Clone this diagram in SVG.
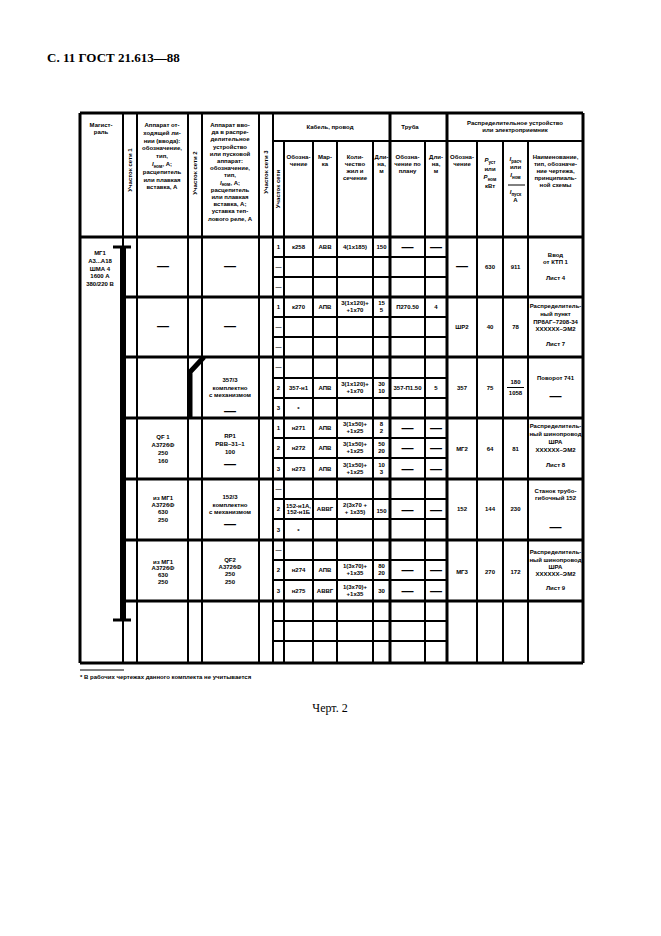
<svg xmlns="http://www.w3.org/2000/svg" width="661" height="936" viewBox="0 0 661 936">
<style>
.t{font-family:"Liberation Sans",Arial,sans-serif;font-size:6px;font-weight:bold;text-anchor:middle;fill:#000}
.l{font-family:"Liberation Sans",Arial,sans-serif;font-size:6px;font-weight:bold;fill:#000}
.d{font-family:"Liberation Sans",Arial,sans-serif;font-size:12px;font-weight:bold;text-anchor:middle;fill:#000}
.ln{stroke:#000;stroke-width:2;fill:none}
.tk{stroke:#000;stroke-width:3;fill:none}
.s{font-size:4.5px}
</style>
<rect width="661" height="936" fill="#fff"/>
<text x="47" y="62" font-family="Liberation Serif,Times New Roman,serif" font-size="13" font-weight="bold">С. 11 ГОСТ 21.613—88</text>

<g id="grid">
<path class="tk" d="M80,113H583M80,237H583M80,663H583M80,113V663M583,113V663M390,113V663M447,113V663"/>
<path class="tk" d="M123,297H583M123,357H583M123,418H583M123,479H583M123,540H583M123,601H583"/>
<path class="ln" d="M273,141H583M123,113V663M137,113V663M188,113V663M202,113V663M259,113V663M273,113V663M284,141V663M313,141V663M337,141V663M373,141V663M425,141V663M477,141V663M503,141V663M528,141V663"/>
<path class="ln" d="M273,257H447M273,277H447M273,317H447M273,337H447M273,378H447M273,398H447M273,438H447M273,458H447M273,499H447M273,519H447M273,560H447M273,580H447M273,621H447M273,641H447"/>
</g>

<g id="bus">
<rect x="120" y="246" width="6" height="375" fill="#000"/>
<path class="tk" d="M113,247H131M113,620H131"/>
<polyline points="204,357 190,372 190,418" stroke="#000" stroke-width="5" fill="none"/>
</g>

<g id="header">
<text class="t" x="101"><tspan x="101" y="127">Магист-</tspan><tspan x="101" y="134">раль</tspan></text>
<text class="t" transform="translate(132,170) rotate(-90)">Участок сети 1</text>
<text class="t" transform="translate(197,173) rotate(-90)">Участок сети 2</text>
<text class="t" transform="translate(268,172) rotate(-90)">Участок сети 3</text>
<text class="t" transform="translate(280,189) rotate(-90)">Участок сети</text>
<text class="t"><tspan x="162" y="127">Аппарат от-</tspan><tspan x="162" y="134.8">ходящей ли-</tspan><tspan x="162" y="142.6">нии (ввода):</tspan><tspan x="162" y="150.4">обозначение,</tspan><tspan x="162" y="158.2">тип,</tspan><tspan x="162" y="166"><tspan font-style="italic">I</tspan><tspan class="s" dy="1.5">ном</tspan><tspan dy="-1.5">, А;</tspan></tspan><tspan x="162" y="173.8">расцепитель</tspan><tspan x="162" y="181.6">или плавкая</tspan><tspan x="162" y="189.4">вставка, А</tspan></text>
<text class="t"><tspan x="230" y="127">Аппарат вво-</tspan><tspan x="230" y="134.2">да в распре-</tspan><tspan x="230" y="141.4">делительное</tspan><tspan x="230" y="148.6">устройство</tspan><tspan x="230" y="155.8">или пусковой</tspan><tspan x="230" y="163">аппарат:</tspan><tspan x="230" y="170.2">обозначение,</tspan><tspan x="230" y="177.4">тип,</tspan><tspan x="230" y="184.6"><tspan font-style="italic">I</tspan><tspan class="s" dy="1.5">ном</tspan><tspan dy="-1.5">, А;</tspan></tspan><tspan x="230" y="191.8">расцепитель</tspan><tspan x="230" y="199">или плавкая</tspan><tspan x="230" y="206.2">вставка, А;</tspan><tspan x="230" y="213.4">уставка теп-</tspan><tspan x="230" y="220.6">лового реле, А</tspan></text>
<text class="t" x="330" y="129">Кабель, провод</text>
<text class="t" x="410" y="129">Труба</text>
<text class="t"><tspan x="515" y="125">Распределительное устройство</tspan><tspan x="515" y="132">или электроприемник</tspan></text>
<text class="t"><tspan x="298.5" y="159">Обозна-</tspan><tspan x="298.5" y="166">чение</tspan></text>
<text class="t"><tspan x="325" y="159">Мар-</tspan><tspan x="325" y="166">ка</tspan></text>
<text class="t"><tspan x="355" y="159">Коли-</tspan><tspan x="355" y="166">чество</tspan><tspan x="355" y="173">жил и</tspan><tspan x="355" y="180">сечение</tspan></text>
<text class="t"><tspan x="381.5" y="159">Дли-</tspan><tspan x="381.5" y="166">на,</tspan><tspan x="381.5" y="173">м</tspan></text>
<text class="t"><tspan x="407.5" y="159">Обозна-</tspan><tspan x="407.5" y="166">чение по</tspan><tspan x="407.5" y="173">плану</tspan></text>
<text class="t"><tspan x="436" y="159">Дли-</tspan><tspan x="436" y="166">на,</tspan><tspan x="436" y="173">м</tspan></text>
<text class="t"><tspan x="462" y="159">Обозна-</tspan><tspan x="462" y="166">чение</tspan></text>
<text class="t"><tspan x="490" y="162"><tspan font-style="italic">P</tspan><tspan class="s" dy="1.5">уст</tspan></tspan><tspan x="490" y="171">или</tspan><tspan x="490" y="179"><tspan font-style="italic">P</tspan><tspan class="s" dy="1.5">ном</tspan></tspan><tspan x="490" y="188">кВт</tspan></text>
<text class="t"><tspan x="515.5" y="161"><tspan font-style="italic">I</tspan><tspan class="s" dy="1.5">расч</tspan></tspan><tspan x="515.5" y="169">или</tspan><tspan x="515.5" y="177"><tspan font-style="italic">I</tspan><tspan class="s" dy="1.5">ном</tspan></tspan><tspan x="515.5" y="194"><tspan font-style="italic">I</tspan><tspan class="s" dy="1.5">пуск</tspan></tspan><tspan x="515.5" y="202">А</tspan></text>
<path d="M508,185H525" stroke="#000" stroke-width="1"/>
<text class="t"><tspan x="555.5" y="159">Наименование,</tspan><tspan x="555.5" y="166">тип, обозначе-</tspan><tspan x="555.5" y="173">ние чертежа,</tspan><tspan x="555.5" y="180">принципиаль-</tspan><tspan x="555.5" y="187">ной схемы</tspan></text>
</g>

<g id="mg1">
<text class="t"><tspan x="100" y="255">МГ1</tspan><tspan x="100" y="263">А3...А18</tspan><tspan x="100" y="270.5">ШМА 4</tspan><tspan x="100" y="278">1600 А</tspan><tspan x="100" y="286">380/220 В</tspan></text>
</g>

<g id="row1">
<text class="d" x="163" y="270">—</text>
<text class="d" x="230" y="270">—</text>
<text class="t" x="278.5" y="249">1</text>
<text class="t" x="278.5" y="269">—</text>
<text class="t" x="278.5" y="289">—</text>
<text class="t" x="298.5" y="249">к258</text>
<text class="t" x="325" y="249">АВВ</text>
<text class="t" x="355" y="249">4(1х185)</text>
<text class="t" x="381.5" y="249">150</text>
<text class="d" x="407.5" y="251">—</text>
<text class="d" x="436" y="251">—</text>
<text class="d" x="462" y="270">—</text>
<text class="t" x="490" y="269">630</text>
<text class="t" x="515.5" y="269">911</text>
<text class="t"><tspan x="555.5" y="257">Ввод</tspan><tspan x="555.5" y="264">от КТП 1</tspan><tspan x="555.5" y="280">Лист 4</tspan></text>
</g>

<g id="row2">
<text class="d" x="163" y="330">—</text>
<text class="d" x="230" y="330">—</text>
<text class="t" x="278.5" y="309">1</text>
<text class="t" x="278.5" y="329">—</text>
<text class="t" x="278.5" y="349">—</text>
<text class="t" x="298.5" y="309">к270</text>
<text class="t" x="325" y="309">АПВ</text>
<text class="t"><tspan x="355" y="305">3(1х120)+</tspan><tspan x="355" y="312">+1х70</tspan></text>
<text class="t"><tspan x="381.5" y="305">15</tspan><tspan x="381.5" y="312">5</tspan></text>
<text class="t" x="407.5" y="309">П270.50</text>
<text class="t" x="436" y="309">4</text>
<text class="t" x="462" y="329">ШР2</text>
<text class="t" x="490" y="329">40</text>
<text class="t" x="515.5" y="329">78</text>
<text class="t"><tspan x="555.5" y="308">Распределитель-</tspan><tspan x="555.5" y="316">ный пункт</tspan><tspan x="555.5" y="323.5">ПР8АГ–7208-34</tspan><tspan x="555.5" y="330.5">XXXXXX–ЭМ2</tspan><tspan x="555.5" y="346">Лист 7</tspan></text>
</g>

<g id="row3">
<text class="t"><tspan x="230" y="382">357/3</tspan><tspan x="230" y="389.5">комплектно</tspan><tspan x="230" y="397">с механизмом</tspan></text>
<text class="d" x="230" y="415">—</text>
<text class="t" x="278.5" y="369">—</text>
<text class="t" x="278.5" y="390">2</text>
<text class="t" x="278.5" y="410">3</text>
<text class="t" x="298.5" y="390">357-н1</text>
<text class="t" x="325" y="390">АПВ</text>
<text class="t"><tspan x="355" y="386">3(1х120)+</tspan><tspan x="355" y="393">+1х70</tspan></text>
<text class="t"><tspan x="381.5" y="386">30</tspan><tspan x="381.5" y="393">10</tspan></text>
<text class="t" x="407.5" y="390">357-П1.50</text>
<text class="t" x="436" y="390">5</text>
<text class="t" x="298.5" y="411">*</text>
<text class="t" x="462" y="390">357</text>
<text class="t" x="490" y="390">75</text>
<text class="t"><tspan x="515.5" y="384">180</tspan><tspan x="515.5" y="395">1058</tspan></text>
<path d="M507,387.5H524" stroke="#000" stroke-width="1"/>
<text class="t" x="555.5" y="380">Поворот 741</text>
<text class="d" x="555.5" y="400">—</text>
</g>

<g id="row4">
<text class="t"><tspan x="163" y="439">QF 1</tspan><tspan x="163" y="447">А3726Ф</tspan><tspan x="163" y="455">250</tspan><tspan x="163" y="463">160</tspan></text>
<text class="t"><tspan x="230" y="438">RP1</tspan><tspan x="230" y="445.5">РВВ–31–1</tspan><tspan x="230" y="453.5">100</tspan></text>
<text class="d" x="230" y="468">—</text>
<text class="t" x="278.5" y="430">1</text>
<text class="t" x="278.5" y="450">2</text>
<text class="t" x="278.5" y="471">3</text>
<text class="t" x="298.5" y="430">н271</text>
<text class="t" x="298.5" y="450">н272</text>
<text class="t" x="298.5" y="471">н273</text>
<text class="t" x="325" y="430">АПВ</text>
<text class="t" x="325" y="450">АПВ</text>
<text class="t" x="325" y="471">АПВ</text>
<text class="t"><tspan x="355" y="426">3(1х50)+</tspan><tspan x="355" y="433">+1х25</tspan></text>
<text class="t"><tspan x="355" y="446">3(1х50)+</tspan><tspan x="355" y="453">+1х25</tspan></text>
<text class="t"><tspan x="355" y="467">3(1х50)+</tspan><tspan x="355" y="474">+1х25</tspan></text>
<text class="t"><tspan x="381.5" y="426">8</tspan><tspan x="381.5" y="433">2</tspan></text>
<text class="t"><tspan x="381.5" y="446">50</tspan><tspan x="381.5" y="453">20</tspan></text>
<text class="t"><tspan x="381.5" y="467">10</tspan><tspan x="381.5" y="474">3</tspan></text>
<text class="d" x="407.5" y="432">—</text>
<text class="d" x="436" y="432">—</text>
<text class="d" x="407.5" y="452">—</text>
<text class="d" x="436" y="452">—</text>
<text class="d" x="407.5" y="473">—</text>
<text class="d" x="436" y="473">—</text>
<text class="t" x="462" y="451">МГ2</text>
<text class="t" x="490" y="451">64</text>
<text class="t" x="515.5" y="451">81</text>
<text class="t"><tspan x="555.5" y="428">Распределитель-</tspan><tspan x="555.5" y="436">ный шинопровод</tspan><tspan x="555.5" y="444">ШРА</tspan><tspan x="555.5" y="451.5">XXXXXX–ЭМ2</tspan><tspan x="555.5" y="467">Лист 8</tspan></text>
</g>

<g id="row5">
<text class="t"><tspan x="163" y="500">из МГ1</tspan><tspan x="163" y="507">А3726Ф</tspan><tspan x="163" y="514">630</tspan><tspan x="163" y="521.5">250</tspan></text>
<text class="t"><tspan x="230" y="499">152/3</tspan><tspan x="230" y="506.5">комплектно</tspan><tspan x="230" y="514">с механизмом</tspan></text>
<text class="d" x="230" y="528">—</text>
<text class="t" x="278.5" y="491">—</text>
<text class="t" x="278.5" y="511">2</text>
<text class="t" x="278.5" y="532">3</text>
<text class="t"><tspan x="298.5" y="507.5">152-н1А,</tspan><tspan x="298.5" y="514">152-н1Б</tspan></text>
<text class="t" x="325" y="511">АВВГ</text>
<text class="t"><tspan x="355" y="507">2(3х70 +</tspan><tspan x="355" y="514">+ 1х35)</tspan></text>
<text class="t" x="381.5" y="513">150</text>
<text class="d" x="407.5" y="514">—</text>
<text class="d" x="436" y="514">—</text>
<text class="t" x="298.5" y="533">*</text>
<text class="t" x="462" y="511">152</text>
<text class="t" x="490" y="511">144</text>
<text class="t" x="515.5" y="511">230</text>
<text class="t"><tspan x="555.5" y="493">Станок трубо-</tspan><tspan x="555.5" y="500">гибочный 152</tspan></text>
<text class="d" x="555.5" y="531">—</text>
</g>

<g id="row6">
<text class="t"><tspan x="163" y="564">из МГ1</tspan><tspan x="163" y="570">А3726Ф</tspan><tspan x="163" y="577">630</tspan><tspan x="163" y="584">250</tspan></text>
<text class="t"><tspan x="230" y="562">QF2</tspan><tspan x="230" y="569">А3726Ф</tspan><tspan x="230" y="576">250</tspan><tspan x="230" y="583.5">250</tspan></text>
<text class="t" x="278.5" y="552">—</text>
<text class="t" x="278.5" y="572">2</text>
<text class="t" x="278.5" y="593">3</text>
<text class="t" x="298.5" y="572">н274</text>
<text class="t" x="298.5" y="593">н275</text>
<text class="t" x="325" y="572">АПВ</text>
<text class="t" x="325" y="593">АВВГ</text>
<text class="t"><tspan x="355" y="568">1(3х70)+</tspan><tspan x="355" y="575">+1х35</tspan></text>
<text class="t"><tspan x="355" y="589">1(3х70)+</tspan><tspan x="355" y="596">+1х35</tspan></text>
<text class="t"><tspan x="381.5" y="568">80</tspan><tspan x="381.5" y="575">20</tspan></text>
<text class="t" x="381.5" y="593">30</text>
<text class="d" x="407.5" y="574">—</text>
<text class="d" x="436" y="574">—</text>
<text class="d" x="407.5" y="595">—</text>
<text class="d" x="436" y="595">—</text>
<text class="t" x="462" y="574">МГ3</text>
<text class="t" x="490" y="574">270</text>
<text class="t" x="515.5" y="574">172</text>
<text class="t"><tspan x="555.5" y="554">Распределитель-</tspan><tspan x="555.5" y="561.5">ный шинопровод</tspan><tspan x="555.5" y="569">ШРА</tspan><tspan x="555.5" y="576">XXXXXX–ЭМ2</tspan><tspan x="555.5" y="590">Лист 9</tspan></text>
</g>

<g id="footnote">
<path d="M80,670H124" stroke="#000" stroke-width="1"/>
<text class="l" x="80" y="679">* В рабочих чертежах данного комплекта не учитывается</text>
</g>
<text x="330" y="712" font-family="Liberation Serif,Times New Roman,serif" font-size="12" text-anchor="middle">Черт. 2</text>
</svg>
